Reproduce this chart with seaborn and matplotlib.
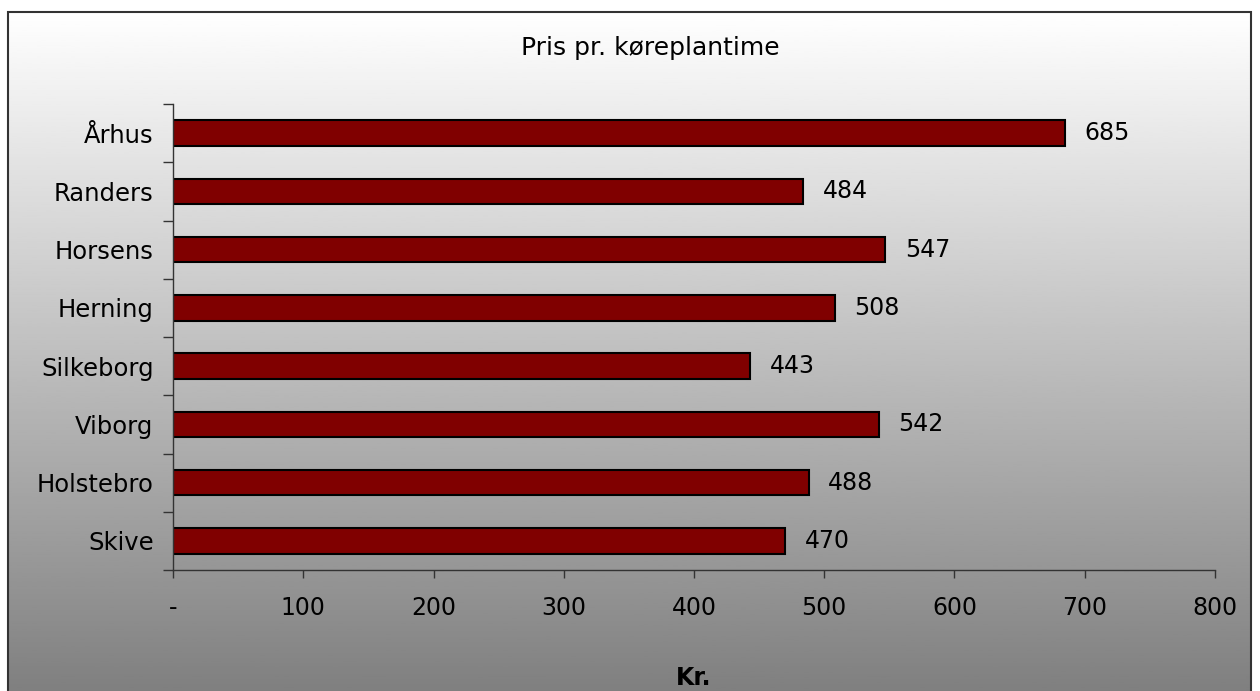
import numpy as np
import pandas as pd
import matplotlib
matplotlib.use("Agg")
import matplotlib.pyplot as plt
import seaborn as sns
from matplotlib.patches import Rectangle

# Data
byer = ["Århus", "Randers", "Horsens", "Herning", "Silkeborg", "Viborg", "Holstebro", "Skive"]
priser = [685, 484, 547, 508, 443, 542, 488, 470]
x_ticks = [0, 100, 200, 300, 400, 500, 600, 700, 800]
x_labels = ["-", "100", "200", "300", "400", "500", "600", "700", "800"]

df = pd.DataFrame({"by": byer, "pris": priser})

sns.set_style("white")
plt.rcParams["font.family"] = ["DejaVu Sans"]
plt.rcParams["text.color"] = "black"
plt.rcParams["axes.labelcolor"] = "black"
plt.rcParams["xtick.color"] = "black"
plt.rcParams["ytick.color"] = "black"

fig = plt.figure(figsize=(12.6, 6.91), dpi=100)

# Baggrund med gradient
bg = fig.add_axes([0, 0, 1, 1], zorder=0)
grad = np.linspace(1.0, 0.5, 256).reshape(-1, 1)
bg.imshow(grad, cmap="gray", vmin=0, vmax=1, aspect="auto",
          extent=[8 / 1260, 1251 / 1260, 0, 1 - 12 / 691])
bg.add_patch(Rectangle((8 / 1260, -0.01), 1243 / 1260, 1 - 12 / 691 + 0.01,
                       fill=False, edgecolor="#333333", linewidth=1.5))
bg.set_xlim(0, 1)
bg.set_ylim(0, 1)
bg.axis("off")

ax = fig.add_axes([173 / 1260, 1 - 570 / 691, 1042 / 1260, 466 / 691], zorder=1)
ax.patch.set_alpha(0)

sns.barplot(data=df, x="pris", y="by", color="#800000", edgecolor="black",
            linewidth=1.5, width=0.44, saturation=1, ax=ax)

ax.set_xlim(0, 800)
ax.set_ylim(len(byer) - 0.5, -0.5)
ax.set_xticks(x_ticks)
ax.set_xticklabels(x_labels, fontsize=17)
ax.tick_params(axis="x", bottom=True, direction="out", length=6, width=1,
               color="#333333", pad=13)
ax.tick_params(axis="y", which="major", left=True, length=0, labelsize=17.5, pad=14)
ax.set_yticks(np.arange(-0.5, len(byer)), minor=True)
ax.tick_params(axis="y", which="minor", left=True, direction="out", length=7,
               width=1, color="#333333")

for s in ["top", "right"]:
    ax.spines[s].set_visible(False)
for s in ["left", "bottom"]:
    ax.spines[s].set_color("#333333")
    ax.spines[s].set_linewidth(1)

for i, v in enumerate(priser):
    ax.text(v + 15, i, str(v), va="center", ha="left", fontsize=17)

ax.set_xlabel("Kr.", fontsize=17, fontweight="bold", labelpad=33, color="black")
ax.set_ylabel("")
fig.text(650 / 1260, 1 - 48 / 691, "Pris pr. køreplantime", ha="center", va="center", fontsize=18)

fig.savefig("out.png", dpi=100)
